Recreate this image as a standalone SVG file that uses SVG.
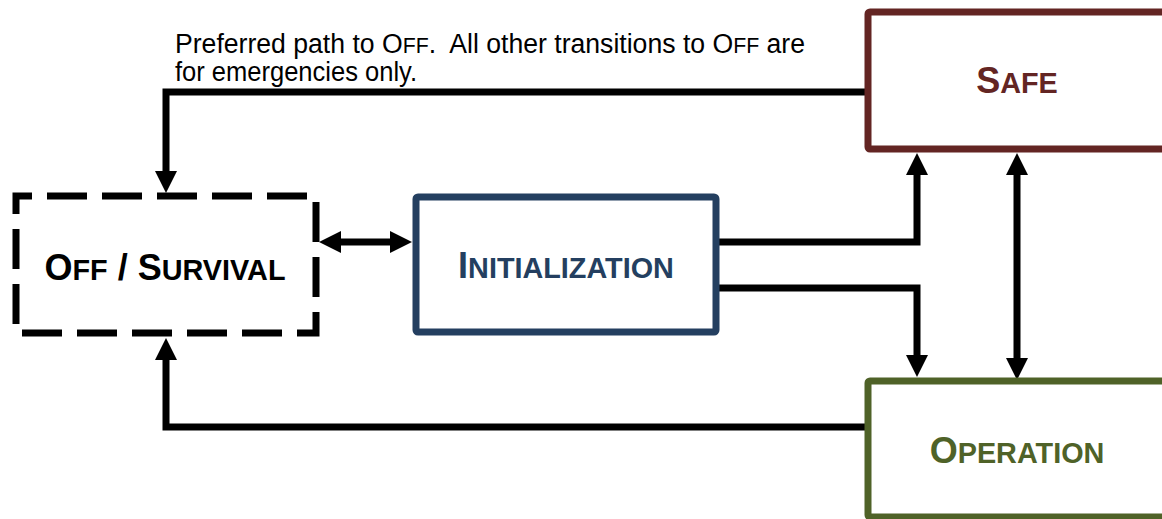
<svg xmlns="http://www.w3.org/2000/svg" width="1162" height="519" viewBox="0 0 1162 519">
  <style>
    .wire { fill: none; stroke: #000; stroke-width: 7; stroke-linejoin: miter; }
    .box { fill: #fff; stroke-width: 7; }
    .label { font-family: "Liberation Sans", Arial, sans-serif; font-weight: bold; font-size: 36px; text-anchor: middle; }
    .sc { font-size: 28.8px; }
    .note { font-family: "Liberation Sans", Arial, sans-serif; font-size: 27px; fill: #000; white-space: pre; }
    .note .sc { font-size: 21.6px; }
  </style>
  <defs>
    <marker id="head" markerUnits="userSpaceOnUse" markerWidth="22" markerHeight="22" refX="0" refY="11" orient="auto-start-reverse" viewBox="0 0 22 22">
      <path d="M0,0 L22,11 L0,22 z" fill="#000"/>
    </marker>
  </defs>

  <!-- transitions -->
  <g id="connectors">
    <path class="wire" d="M868,92 H166 V171" marker-end="url(#head)"/>
    <path class="wire" d="M341,242 H390" marker-start="url(#head)" marker-end="url(#head)"/>
    <path class="wire" d="M716,242 H917 V175" marker-end="url(#head)"/>
    <path class="wire" d="M716,288 H917 V355" marker-end="url(#head)"/>
    <path class="wire" d="M1017,175 V358" marker-start="url(#head)" marker-end="url(#head)"/>
    <path class="wire" d="M868,427 H166 V360" marker-end="url(#head)"/>
  </g>

  <text class="note" x="175" y="53" textLength="630" lengthAdjust="spacingAndGlyphs" xml:space="preserve">Preferred path to O<tspan class="sc">FF</tspan>.  All other transitions to O<tspan class="sc">FF</tspan> are</text>
  <text class="note" x="175" y="81" textLength="242" lengthAdjust="spacingAndGlyphs">for emergencies only.</text>

  <g id="off-survival">
    <path class="box" d="M16,196 H316 V333 H16 Z" stroke="#000" stroke-dasharray="40 15" stroke-dashoffset="24"/>
    <text class="label" x="165" y="280" fill="#000">O<tspan class="sc">FF</tspan> / S<tspan class="sc">URVIVAL</tspan></text>
  </g>

  <g id="initialization">
    <rect class="box" x="416" y="197" width="300" height="135" rx="2" stroke="#243F60"/>
    <text class="label" x="566" y="278" fill="#243F60">I<tspan class="sc">NITIALIZATION</tspan></text>
  </g>

  <g id="safe">
    <rect class="box" x="868" y="12" width="300" height="137" rx="2" stroke="#632523"/>
    <text class="label" x="1017" y="93" fill="#632523">S<tspan class="sc">AFE</tspan></text>
  </g>

  <g id="operation">
    <rect class="box" x="868" y="381" width="300" height="136" rx="2" stroke="#4F6228"/>
    <text class="label" x="1017" y="463" fill="#4F6228">O<tspan class="sc">PERATION</tspan></text>
  </g>
</svg>
